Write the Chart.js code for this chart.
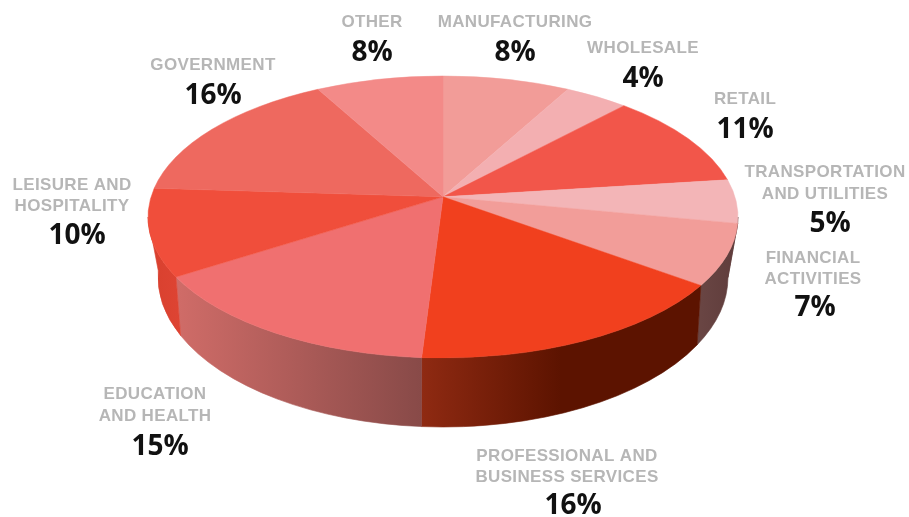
<!DOCTYPE html>
<html>
<head>
<meta charset="utf-8">
<title>Employment by sector</title>
<script src="https://cdn.jsdelivr.net/npm/chart.js@4/dist/chart.umd.min.js"></script>
<style>
  html, body { margin: 0; padding: 0; background: #fff; }
  canvas { display: block; }
</style>
</head>
<body>
<canvas id="pie" width="909" height="517"></canvas>
<script>
// Share of jobs per sector, clockwise from twelve o'clock
const categories = [
  'MANUFACTURING', 'WHOLESALE', 'RETAIL', 'TRANSPORTATION\nAND UTILITIES',
  'FINANCIAL\nACTIVITIES', 'PROFESSIONAL AND\nBUSINESS SERVICES',
  'EDUCATION\nAND HEALTH', 'LEISURE AND\nHOSPITALITY', 'GOVERNMENT', 'OTHER'
];
const shares = [8, 4, 11, 5, 7, 16, 15, 10, 16, 8];

const faceColors = [
  '#f29c98', '#f3afb1', '#f2564a', '#f3b5b7', '#f29d99',
  '#f1401e', '#f07070', '#f04e3b', '#ee695f', '#f38a88'
];

// Outer wall shading per sector, [left stop, right stop, position of right stop]
const wallShades = [
  null, null, null, ['#64403f', '#64403f', 1], ['#6a4644', '#5f3c3b', 1],
  ['#8f2a12', '#5c1300', 0.5], ['#d06c68', '#884a48', 1], ['#d8402e', '#de4433', 1],
  null, null
];

// Caption placement: centre x, baseline of each caption line, centre x and baseline of the figure
const captionLayout = [
  { x: 515, lines: [27], px: 515, py: 61 },
  { x: 643, lines: [53], px: 643, py: 87 },
  { x: 745, lines: [104], px: 745, py: 138 },
  { x: 825, lines: [177, 199], px: 830, py: 232 },
  { x: 813, lines: [263, 284], px: 815, py: 316 },
  { x: 567, lines: [461, 482], px: 573, py: 514 },
  { x: 155, lines: [399, 421], px: 160, py: 455 },
  { x: 72, lines: [190, 211], px: 77, py: 244 },
  { x: 213, lines: [70], px: 213, py: 104 },
  { x: 372, lines: [27], px: 372, py: 61 }
];

// Perspective disc: rim ellipses of the top face and the base, with the
// foreshortening factor that moves the visual centre towards the far edge.
const topRim = { cx: 443, cy: 217, rx: 295, ry: 141, k: 0.866 };
const baseRim = { cx: 443, cy: 277, rx: 285, ry: 150, k: 0.83 };

// Sector angle (0 at top, clockwise) to its parameter on a rim ellipse
const rimParam = (rim, theta) =>
  2 * Math.atan2(rim.k * Math.sin(theta / 2), Math.cos(theta / 2));
const rimPoint = (rim, phi) => ({
  x: rim.cx + rim.rx * Math.sin(phi),
  y: rim.cy - rim.ry * Math.cos(phi)
});
const traceRim = (ctx, rim, phiA, phiB, ccw) =>
  ctx.ellipse(rim.cx, rim.cy, rim.rx, rim.ry, 0, phiA - Math.PI / 2, phiB - Math.PI / 2, ccw);

// Front-facing stretch of the wall, in sector angles
const frontStart = 2 * Math.atan(1 / topRim.k);
const frontEnd = 2 * Math.PI - frontStart;

const perspectivePie = {
  id: 'perspectivePie',
  beforeDatasetDraw(chart, args) {
    const ctx = chart.ctx;
    const arcs = chart.getDatasetMeta(args.index).data;
    const sectors = arcs.map(a => ({
      a: a.startAngle + Math.PI / 2,
      b: a.endAngle + Math.PI / 2,
      fill: a.options.backgroundColor
    }));

    ctx.save();
    // Outer wall first, so the top face overlaps its upper edge
    sectors.forEach((s, i) => {
      const shade = wallShades[i];
      const a = Math.max(s.a, frontStart);
      const b = Math.min(s.b, frontEnd);
      if (!shade || b <= a) return;
      const top0 = rimParam(topRim, a), top1 = rimParam(topRim, b);
      const base0 = rimParam(baseRim, a), base1 = rimParam(baseRim, b);
      const xs = [rimPoint(topRim, top0).x, rimPoint(topRim, top1).x,
                  rimPoint(baseRim, base0).x, rimPoint(baseRim, base1).x];
      const grad = ctx.createLinearGradient(Math.min(...xs), 0, Math.max(...xs), 0);
      grad.addColorStop(0, shade[0]);
      grad.addColorStop(shade[2], shade[1]);
      if (shade[2] < 1) grad.addColorStop(1, shade[1]);
      ctx.beginPath();
      traceRim(ctx, topRim, top0, top1, false);
      traceRim(ctx, baseRim, base1, base0, true);
      ctx.closePath();
      ctx.fillStyle = grad;
      ctx.strokeStyle = grad;
      ctx.lineWidth = 0.6;
      ctx.fill();
      ctx.stroke();
    });

    // Top face: wedges converge on the foreshortened centre
    const apexY = topRim.cy - topRim.ry * Math.cos(2 * Math.atan(topRim.k));
    sectors.forEach(s => {
      ctx.beginPath();
      ctx.moveTo(topRim.cx, apexY);
      traceRim(ctx, topRim, rimParam(topRim, s.a), rimParam(topRim, s.b), false);
      ctx.closePath();
      ctx.fillStyle = s.fill;
      ctx.strokeStyle = s.fill;
      ctx.lineWidth = 0.5;
      ctx.fill();
      ctx.stroke();
    });
    ctx.restore();
    return false;
  },
  afterDraw(chart) {
    const ctx = chart.ctx;
    ctx.save();
    ctx.textAlign = 'center';
    ctx.textBaseline = 'alphabetic';
    categories.forEach((name, i) => {
      const spot = captionLayout[i];
      ctx.font = 'bold 17px "Liberation Sans"';
      ctx.letterSpacing = '0.35px';
      ctx.fillStyle = '#b6b6b6';
      name.split('\n').forEach((line, j) => ctx.fillText(line, spot.x, spot.lines[j]));
      ctx.font = 'bold 28px "Open Sans"';
      ctx.letterSpacing = '0px';
      ctx.fillStyle = '#111111';
      ctx.fillText(shares[i] + '%', spot.px, spot.py);
    });
    ctx.restore();
  }
};

new Chart(document.getElementById('pie'), {
  type: 'pie',
  data: {
    labels: categories,
    datasets: [{ data: shares, backgroundColor: faceColors, borderWidth: 0 }]
  },
  options: {
    responsive: false,
    animation: false,
    events: [],
    plugins: { legend: { display: false }, tooltip: { enabled: false } }
  },
  plugins: [perspectivePie]
});
</script>
</body>
</html>
